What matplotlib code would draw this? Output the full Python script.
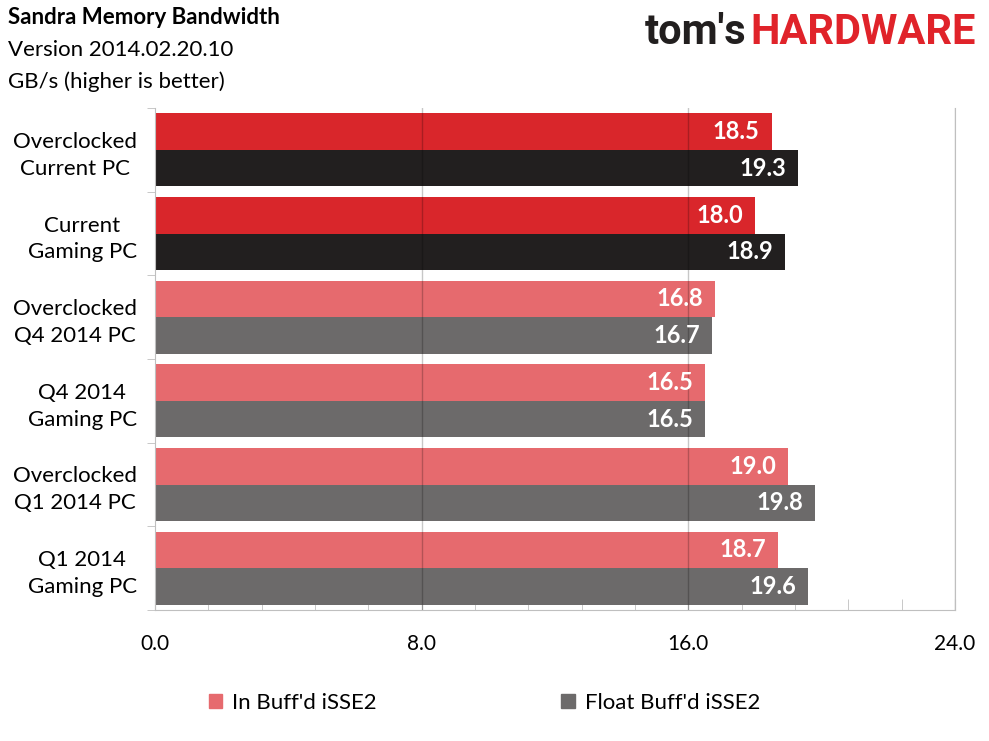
import numpy as np
import matplotlib
matplotlib.use('Agg')
import matplotlib.pyplot as plt
from matplotlib.patches import Patch
from matplotlib.ticker import MultipleLocator

plt.rcParams['font.family'] = ['Lato', 'DejaVu Sans']

# data, top to bottom
categories = ['Overclocked\nCurrent PC', 'Current\nGaming PC',
              'Overclocked\nQ4 2014 PC', 'Q4 2014\nGaming PC',
              'Overclocked\nQ1 2014 PC', 'Q1 2014\nGaming PC']
in_buffd = [18.5, 18.0, 16.8, 16.5, 19.0, 18.7]
float_buffd = [19.3, 18.9, 16.7, 16.5, 19.8, 19.6]
highlight = [True, True, False, False, False, False]
series_names = ["In Buff'd iSSE2", "Float Buff'd iSSE2"]
x_ticks = [0.0, 8.0, 16.0, 24.0]

RED, BLACK = '#D9262B', '#221F1F'
PINK, GRAY = '#E66A6E', '#6C6A6A'
AXIS = '#BFBFBF'

fig = plt.figure(figsize=(9.89, 7.41), dpi=100)
ax = fig.add_axes([155 / 989, 1 - 610 / 741, 800 / 989, 502 / 741])

h = 0.436
y = np.arange(len(categories))
c1 = [RED if hl else PINK for hl in highlight]
c2 = [BLACK if hl else GRAY for hl in highlight]
ax.barh(y - h / 2, in_buffd, height=h, color=c1, zorder=2)
ax.barh(y + h / 2, float_buffd, height=h, color=c2, zorder=2)

# value labels inside bar ends
for yy, v in zip(y, in_buffd):
    ax.annotate(f'{v:.1f}', (v, yy - h / 2), xytext=(-12, 0), textcoords='offset pixels',
                ha='right', va='center', color='white', fontsize=17, fontweight='bold', zorder=4)
for yy, v in zip(y, float_buffd):
    ax.annotate(f'{v:.1f}', (v, yy + h / 2), xytext=(-12, 0), textcoords='offset pixels',
                ha='right', va='center', color='white', fontsize=17, fontweight='bold', zorder=4)

# grid lines at major ticks, drawn over the bars
for xv in x_ticks[1:]:
    ax.axvline(xv, color='black', alpha=0.22, lw=1, zorder=3)

ax.set_xlim(0, 24)
ax.set_ylim(len(categories) - 0.5, -0.5)
ax.set_xticks(x_ticks)
ax.set_xticklabels([f'{t:.1f}' for t in x_ticks], fontsize=15)
ax.xaxis.set_minor_locator(MultipleLocator(1.6))
ax.tick_params(axis='x', which='both', direction='in', length=8, color=AXIS, pad=17)

ax.set_yticks(y)
ax.set_yticklabels(categories, fontsize=16, multialignment='center', linespacing=1.42)
ax.set_yticks(np.arange(len(categories) + 1) - 0.5, minor=True)
ax.tick_params(axis='y', which='major', length=0, pad=13)
ax.tick_params(axis='y', which='minor', length=6, color=AXIS, direction='out')

for s in ['left', 'bottom', 'right']:
    ax.spines[s].set_color(AXIS)
ax.spines['top'].set_visible(False)

fig.text(8 / 989, 1 - 18 / 741, 'Sandra Memory Bandwidth', fontsize=16, fontweight='bold', va='center')
fig.text(8 / 989, 1 - 50 / 741, 'Version 2014.02.20.10', fontsize=16, va='center')
fig.text(8 / 989, 1 - 82 / 741, 'GB/s (higher is better)', fontsize=16, va='center')

# logo
t1 = fig.text(645 / 989, 1 - 32 / 741, "tom's", fontsize=30, fontweight='bold',
              color=BLACK, va='center', family='Roboto')
ax.annotate('HARDWARE', xy=(1, 0.5), xycoords=t1, xytext=(4, 0), textcoords='offset pixels',
            fontsize=30, fontweight='bold', color='#E0232A', va='center', ha='left',
            family='Roboto', annotation_clip=False)

handles = [Patch(color=PINK), Patch(color=GRAY)]
fig.legend(handles, series_names, loc='center', bbox_to_anchor=(0.49, 1 - 703 / 741),
           ncol=2, frameon=False, fontsize=16, columnspacing=8.3,
           handlelength=0.6, handleheight=0.6, handletextpad=0.45)

fig.savefig('out.png', dpi=100)
